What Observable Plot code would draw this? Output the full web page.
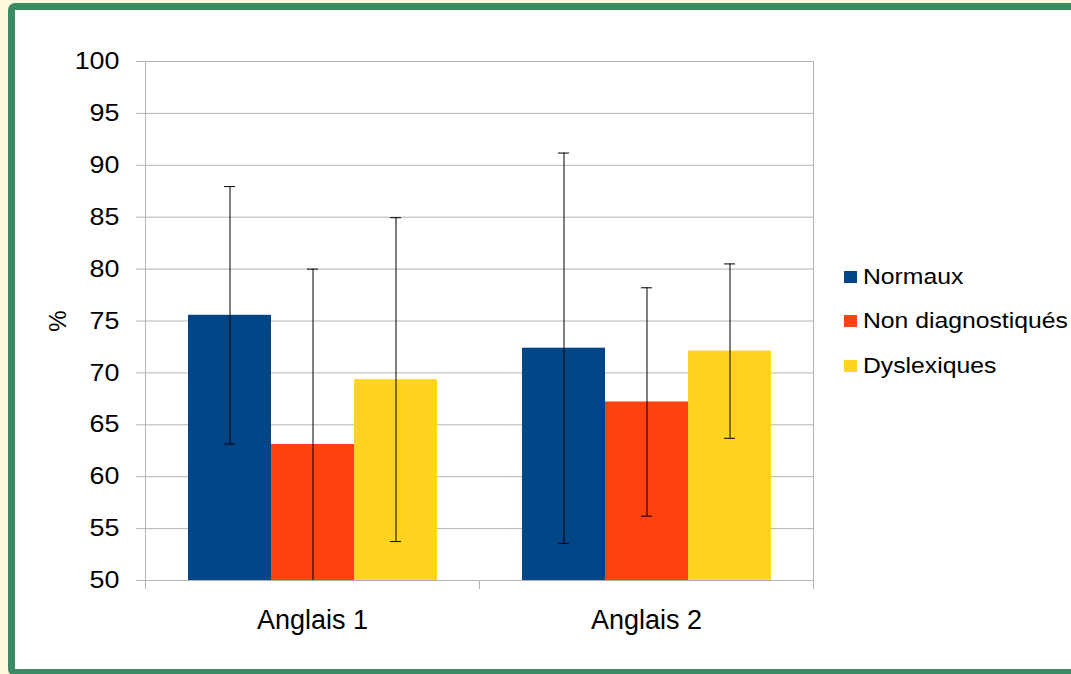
<!DOCTYPE html>
<html>
<head>
<meta charset="utf-8">
<script src="https://cdn.jsdelivr.net/npm/d3@7"></script>
<script src="https://cdn.jsdelivr.net/npm/@observablehq/plot@0.6"></script>
<style>
  html, body { margin: 0; padding: 0; width: 1071px; height: 674px; overflow: hidden; background: #fcf9dc; }
  #box { position: absolute; left: 8px; top: 3px; width: 1100px; height: 659px; border: 7px solid #3b8c64; border-radius: 7px; background: #fff; }
  #chart { position: absolute; left: 0; top: 0; }
  .leg { position: absolute; left: 844px; height: 30px; display: flex; align-items: center; font-family: 'Liberation Sans', Arial, sans-serif; font-size: 21.5px; color: #000; white-space: nowrap; }
  .leg .sw { width: 13px; height: 12px; margin-right: 6px; flex: none; }
  .leg .tx { display: inline-block; line-height: 30px; transform: scaleX(1.15); transform-origin: left center; }
</style>
</head>
<body>
<div id="box"><div id="chart"></div></div>
<div id="legend"></div>
<script>
const categories = ["Anglais 1", "Anglais 2"];
const series = ["Normaux", "Non diagnostiqués", "Dyslexiques"];
const normaux = [75.55, 72.38];
const nonDiagnostiques = [63.1, 67.2];
const dyslexiques = [69.35, 72.1];
const errNormaux = [12.4, 18.8];
const errNonDiagnostiques = [16.9, 11.0];
const errDyslexiques = [15.6, 8.4];
const colors = ["#004586", "#ff420e", "#ffd320"];
const yTicks = [50, 55, 60, 65, 70, 75, 80, 85, 90, 95, 100];

const values = [normaux, nonDiagnostiques, dyslexiques];
const errors = [errNormaux, errNonDiagnostiques, errDyslexiques];
const data = categories.flatMap((c, i) => series.map((s, j) => ({
  category: c, series: s, value: values[j][i], err: errors[j][i]
})));

const gray = "#b3b3b3";
const chart = Plot.plot({
  width: 1056,
  height: 659,
  marginLeft: 130,
  marginRight: 258,
  marginTop: 51,
  marginBottom: 89,
  style: { fontFamily: "'Liberation Sans', Arial, sans-serif", color: "#000", background: "white" },
  fx: { domain: categories, padding: 0, label: null },
  x: { domain: series, paddingInner: 0, paddingOuter: 0.5, axis: null },
  y: { domain: [50, 100] },
  color: { domain: series, range: colors },
  marks: [
    Plot.gridY(yTicks, { stroke: gray, strokeOpacity: 1 }),
    Plot.barY(data, { fx: "category", x: "series", y: "value", fill: "series", clip: true }),
    Plot.ruleY([50], { stroke: gray }),
    Plot.ruleX(data, { fx: "category", x: "series", y1: d => d.value - d.err, y2: d => d.value + d.err, stroke: "#000", strokeWidth: 1, clip: true }),
    Plot.tickY(data, { fx: "category", x: "series", y: d => d.value + d.err, insetLeft: 36, insetRight: 36, stroke: "#000", clip: true }),
    Plot.tickY(data, { fx: "category", x: "series", y: d => d.value - d.err, insetLeft: 36, insetRight: 36, stroke: "#000", clip: true }),
    Plot.frame({ anchor: "left", facetAnchor: "left", insetBottom: -8, stroke: gray }),
    Plot.frame({ anchor: "right", facetAnchor: "right", insetBottom: -8, stroke: gray }),
    Plot.frame({ anchor: "left", insetTop: 519, insetBottom: -8, stroke: gray }),
    Plot.axisY({ ticks: yTicks, tickSize: 9, tickPadding: 17, fontSize: 24, stroke: gray, fill: "#000",
      label: "%", labelAnchor: "center", labelArrow: "none", labelOffset: 97 }),
    Plot.axisFx({ anchor: "bottom", tickSize: 0, tickPadding: 29, fontSize: 27, label: null, fill: "#000" })
  ]
});
// horizontal stretch of the y tick labels, as in the reference rendering
chart.querySelectorAll('[aria-label="y-axis tick label"] text').forEach(t => {
  const tr = t.getAttribute("transform");
  if (tr) t.setAttribute("transform", tr + " scale(1.12,1)");
});
document.getElementById("chart").appendChild(chart);

const legend = document.getElementById("legend");
const rowTops = [262, 306, 351];
series.forEach((s, i) => {
  const row = document.createElement("div");
  row.className = "leg";
  row.style.top = rowTops[i] + "px";
  const sw = document.createElement("span");
  sw.className = "sw";
  sw.style.background = colors[i];
  const tx = document.createElement("span");
  tx.className = "tx";
  tx.textContent = s;
  row.appendChild(sw);
  row.appendChild(tx);
  legend.appendChild(row);
});
</script>
</body>
</html>
